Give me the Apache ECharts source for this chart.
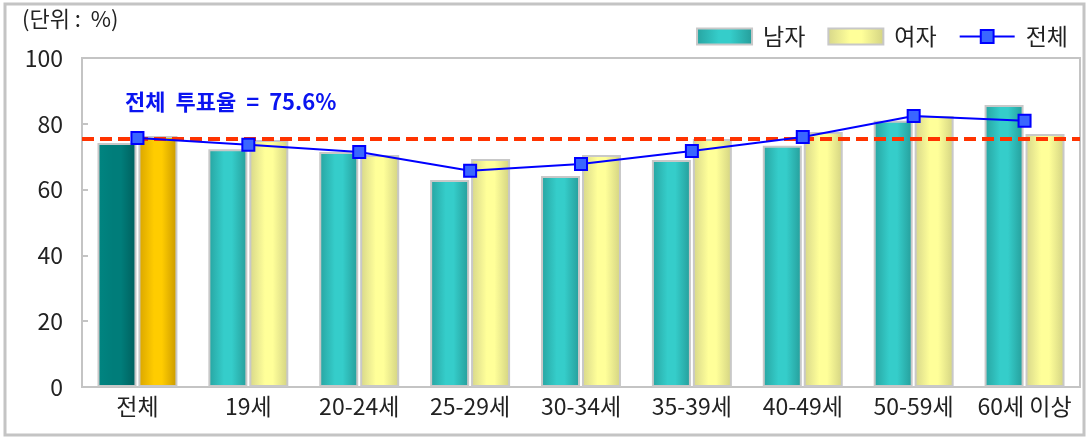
<!DOCTYPE html>
<html>
<head>
<meta charset="utf-8">
<script src="https://cdn.jsdelivr.net/npm/echarts@6/dist/echarts.min.js"></script>
<style>
  html, body { margin: 0; padding: 0; background: #fff; }
  #chart { width: 1089px; height: 440px; }
</style>
</head>
<body>
<div id="chart"></div>
<script>
// 연령대별 투표율 (단위 : %)
const categories = ["전체", "19세", "20-24세", "25-29세", "30-34세", "35-39세", "40-49세", "50-59세", "60세 이상"];
const maleData = [74.2, 72.3, 71.4, 62.9, 64.1, 69.0, 73.3, 80.9, 85.7];
const femaleData = [76.3, 75.1, 70.5, 69.3, 70.5, 75.4, 77.5, 82.4, 76.9];
const totalData = [75.7, 73.6, 71.4, 65.7, 67.8, 71.7, 76.0, 82.4, 80.9];
const overallRate = 75.6;

const FONT = "'Noto Sans CJK KR', 'Noto Sans', sans-serif";

function hGrad(edgeL, mid, edgeR) {
  return new echarts.graphic.LinearGradient(0, 0, 1, 0, [
    { offset: 0, color: edgeL },
    { offset: 0.4, color: mid },
    { offset: 0.6, color: mid },
    { offset: 1, color: edgeR },
  ]);
}

const maleColor = hGrad("#27a3a0", "#35cdca", "#259c99");
const femaleColor = hGrad("#d6d68a", "#ffff99", "#d2d282");
const maleFirst = hGrad("#008581", "#007d7a", "#005e5c");
const femaleFirst = hGrad("#d8a400", "#ffcc00", "#c89800");

const maleSeries = maleData.map((v, i) =>
  i === 0 ? { value: v, itemStyle: { color: maleFirst } } : v
);
const femaleSeries = femaleData.map((v, i) =>
  i === 0 ? { value: v, itemStyle: { color: femaleFirst } } : v
);

const chart = echarts.init(document.getElementById("chart"));

const option = {
  animation: false,
  textStyle: { fontFamily: FONT },
  graphic: [
    {
      type: "rect",
      shape: { x: 5, y: 4, width: 1079, height: 431 },
      style: { fill: "none", stroke: "#c4c4c4", lineWidth: 3 },
    },
    {
      type: "text",
      left: 22,
      top: 8,
      style: { text: "(단위 :  %)", font: "22px " + FONT, fill: "#222" },
    },
    {
      type: "text",
      left: 125,
      top: 91,
      z: 10,
      style: { text: "전체  투표율  =  75.6%", font: "bold 22px " + FONT, fill: "#0a14f0" },
    },
  ],
  legend: {
    right: 16,
    top: 20,
    itemWidth: 55,
    itemHeight: 16,
    itemGap: 22,
    textStyle: { fontSize: 23, color: "#222", fontFamily: FONT, padding: [0, 0, 0, 6] },
    data: [
      { name: "남자", icon: "rect" },
      { name: "여자", icon: "rect" },
      { name: "전체" },
    ],
  },
  grid: {
    left: 82,
    right: 9,
    top: 58,
    bottom: 53,
    show: true,
    borderColor: "#c4c4c4",
    borderWidth: 2,
  },
  xAxis: {
    type: "category",
    data: categories,
    axisLine: { lineStyle: { color: "#c4c4c4", width: 2 } },
    axisTick: { inside: true, length: 6, lineStyle: { color: "#c4c4c4", width: 2 } },
    axisLabel: { fontSize: 23, color: "#222", margin: 8, interval: 0 },
  },
  yAxis: {
    type: "value",
    min: 0,
    max: 100,
    interval: 20,
    splitLine: { show: false },
    axisLine: { show: true, lineStyle: { color: "#c4c4c4", width: 2 } },
    axisTick: { show: true, inside: true, length: 6, lineStyle: { color: "#c4c4c4", width: 2 } },
    axisLabel: { fontSize: 23, color: "#222", margin: 19 },
  },
  series: [
    {
      name: "남자",
      type: "bar",
      barWidth: 39,
      barGap: "5%",
      data: maleSeries,
      itemStyle: { color: maleColor, borderColor: "#c8c8c8", borderWidth: 2 },
    },
    {
      name: "여자",
      type: "bar",
      barWidth: 39,
      data: femaleSeries,
      itemStyle: { color: femaleColor, borderColor: "#c8c8c8", borderWidth: 2 },
    },
    {
      name: "전체",
      type: "line",
      data: totalData,
      symbol: "rect",
      symbolSize: 12,
      z: 5,
      lineStyle: { color: "#0000ff", width: 2 },
      itemStyle: { color: "#3a66ff", borderColor: "#0000ff", borderWidth: 2 },
      markLine: {
        silent: true,
        symbol: "none",
        z: 4,
        label: { show: false },
        lineStyle: { color: "#ff3300", width: 4, type: [12, 6] },
        data: [{ yAxis: overallRate }],
      },
    },
  ],
};

chart.setOption(option);
</script>
</body>
</html>
